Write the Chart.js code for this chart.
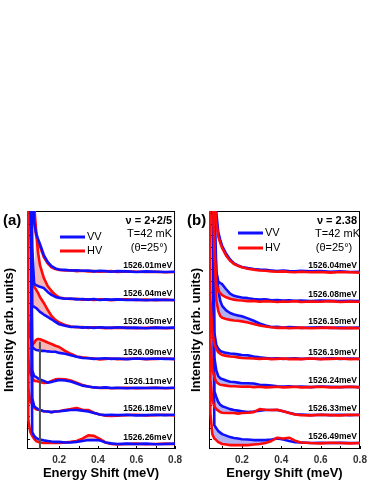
<!DOCTYPE html>
<html>
<head>
<meta charset="utf-8">
<script src="https://cdn.jsdelivr.net/npm/chart.js@4.4.1/dist/chart.umd.min.js"></script>
<style>
  html, body { margin: 0; padding: 0; background: #fff; }
  #wrap { position: relative; width: 374px; height: 484px; }
  .panel { position: absolute; top: 0; width: 187px; height: 484px; }
</style>
</head>
<body>
<div id="wrap">
  <div class="panel" style="left:0"><canvas id="chartA" width="187" height="484"></canvas></div>
  <div class="panel" style="left:187px"><canvas id="chartB" width="187" height="484"></canvas></div>
</div>
<script>
// energy shift grid (meV), shared by every spectrum
const energyShift = [0.03, 0.04, 0.05, 0.06, 0.07, 0.08, 0.09, 0.10, 0.12, 0.14, 0.16, 0.18, 0.20, 0.23, 0.26,
  0.29, 0.32, 0.35, 0.38, 0.41, 0.44, 0.47, 0.50, 0.55, 0.60, 0.65, 0.70, 0.75, 0.80];
const xTickValues = [0.2, 0.4, 0.6, 0.8];
const xMinorTicks = [0.1, 0.2, 0.3, 0.4, 0.5, 0.6, 0.7, 0.8];
const yTickValues = [0.34, 0.72, 1.10, 1.48, 1.86, 2.24, 2.62, 3.00, 3.38, 3.76, 4.14, 4.52, 4.90, 5.28,
  5.66, 6.04, 6.42, 6.80, 7.18, 7.56, 7.94];

// panel (a) : nu = 2+2/5
const laserA = ['1526.01meV', '1526.04meV', '1526.05meV', '1526.09meV', '1526.11meV', '1526.18meV', '1526.26meV'];
const offsetsA = [5.95, 5.01, 4.07, 3.03, 2.05, 1.14, 0.17];
const fillFromA = [0.08, 0.08, 0.06, 0.06, 0.06, 0.06, 0.06];
const vvA = [
  [9, 9, 9, 4, 1.68, 1.31, 1.11, 0.94, 0.57, 0.34, 0.20, 0.12, 0.08, 0.07, 0.05, 0.06, 0.04, 0.05, 0.02, 0.04, 0.03, 0.01, 0.03, 0.02, 0.00, 0.02, 0.01, 0.00, 0.01],
  [9, 9, 9, 1.78, 0.54, 0.50, 0.47, 0.44, 0.40, 0.27, 0.17, 0.10, 0.07, 0.04, 0.05, 0.02, 0.03, 0.01, 0.03, 0.00, 0.02, 0.01, 0.02, 0.00, 0.01, -0.01, 0.01, 0.00, 0.00],
  [9, 9, 9, 0.74, 0.71, 0.67, 0.61, 0.54, 0.45, 0.37, 0.29, 0.20, 0.12, 0.07, 0.03, 0.04, 0.01, 0.02, 0.00, 0.02, 0.01, 0.00, 0.02, 0.00, 0.01, -0.01, 0.01, 0.00, 0.01],
  [9, 9, 9, 0.40, 0.34, 0.30, 0.29, 0.27, 0.27, 0.25, 0.24, 0.24, 0.20, 0.17, 0.12, 0.07, 0.03, 0.02, 0.00, 0.01, 0.02, 0.00, 0.01, -0.01, 0.01, 0.00, 0.01, 0.00, 0.00],
  [9, 9, 9, 0.60, 0.40, 0.37, 0.32, 0.29, 0.24, 0.18, 0.20, 0.24, 0.27, 0.25, 0.22, 0.15, 0.08, 0.05, 0.02, 0.01, 0.02, 0.00, 0.01, -0.01, 0.01, 0.00, 0.01, 0.00, 0.01],
  [9, 9, 9, 0.57, 0.30, 0.24, 0.20, 0.17, 0.13, 0.12, 0.10, 0.12, 0.13, 0.15, 0.17, 0.17, 0.15, 0.12, 0.07, 0.02, 0.00, 0.01, 0.00, 0.01, -0.01, 0.00, 0.01, 0.00, 0.01],
  [9, 9, 9, 0.40, 0.27, 0.20, 0.17, 0.15, 0.12, 0.10, 0.08, 0.07, 0.07, 0.05, 0.05, 0.07, 0.10, 0.13, 0.13, 0.12, 0.05, 0.02, 0.00, 0.01, 0.00, 0.01, -0.01, 0.00, 0.01]
];
const hvA = [
  [9, 9, 9, 4, 1.75, 1.22, 1.02, 0.86, 0.50, 0.29, 0.16, 0.10, 0.07, 0.05, 0.06, 0.03, 0.04, 0.02, 0.03, 0.01, 0.02, 0.03, 0.00, 0.02, 0.01, 0.00, 0.01, -0.01, 0.00],
  [9, 9, 9, 9, 3.2, 2.35, 1.61, 1.18, 0.74, 0.47, 0.30, 0.17, 0.08, 0.05, 0.03, 0.04, 0.01, 0.02, 0.00, 0.02, 0.01, -0.01, 0.01, 0.02, 0.00, 0.01, -0.01, 0.01, -0.01],
  [9, 9, 9, 1.51, 1.38, 1.29, 1.18, 1.04, 0.84, 0.61, 0.40, 0.27, 0.18, 0.10, 0.05, 0.02, 0.03, 0.00, 0.02, 0.01, -0.01, 0.01, 0.00, 0.01, -0.01, 0.00, 0.01, -0.01, 0.00],
  [9, 1.3, 0.75, 0.47, 0.54, 0.64, 0.67, 0.66, 0.61, 0.55, 0.50, 0.44, 0.40, 0.27, 0.17, 0.08, 0.05, 0.03, 0.01, -0.02, 0.00, 0.01, -0.01, 0.00, 0.01, -0.01, 0.00, 0.01, -0.01],
  [9, 1.0, 0.5, 0.37, 0.24, 0.24, 0.22, 0.20, 0.17, 0.18, 0.24, 0.29, 0.30, 0.29, 0.25, 0.18, 0.10, 0.05, 0.02, 0.00, 0.01, -0.01, 0.00, 0.01, -0.01, 0.00, 0.01, -0.01, 0.00],
  [9, 0.9, 0.45, 0.37, 0.25, 0.20, 0.18, 0.17, 0.13, 0.12, 0.10, 0.12, 0.13, 0.17, 0.20, 0.24, 0.18, 0.17, 0.08, 0.02, -0.02, -0.03, -0.02, 0.00, 0.01, -0.01, 0.00, 0.01, -0.01],
  [9, 0.8, 0.4, 0.27, 0.17, 0.10, 0.07, 0.05, 0.03, 0.03, 0.03, 0.03, 0.03, 0.05, 0.07, 0.10, 0.18, 0.29, 0.27, 0.17, 0.05, 0.00, -0.02, 0.00, 0.01, -0.01, 0.00, 0.01, 0.00]
];

// panel (b) : nu = 2.38
const laserB = ['1526.04meV', '1526.08meV', '1526.15meV', '1526.19meV', '1526.24meV', '1526.33meV', '1526.49meV'];
const offsetsB = [5.95, 4.97, 4.07, 3.03, 2.08, 1.14, 0.20];
const fillFromB = [0.08, 0.08, 0.08, 0.07, 0.07, 0.07, 0.06];
const vvB = [
  [9, 9, 9, 4, 2.0, 1.34, 1.08, 0.87, 0.61, 0.42, 0.29, 0.22, 0.17, 0.13, 0.10, 0.08, 0.07, 0.05, 0.03, 0.05, 0.03, 0.02, 0.04, 0.02, 0.03, 0.01, 0.02, 0.00, 0.01],
  [9, 9, 9, 2.5, 1.0, 0.66, 0.61, 0.57, 0.40, 0.25, 0.18, 0.15, 0.12, 0.10, 0.07, 0.05, 0.06, 0.03, 0.04, 0.02, 0.03, 0.01, 0.02, 0.00, 0.02, 0.01, 0.00, 0.01, 0.00],
  [9, 9, 9, 4.5, 1.95, 1.28, 0.91, 0.74, 0.59, 0.50, 0.45, 0.42, 0.39, 0.32, 0.24, 0.15, 0.08, 0.03, 0.04, 0.01, 0.03, 0.02, 0.00, 0.01, 0.02, 0.00, 0.01, 0.00, 0.01],
  [9, 9, 9, 0.9, 0.47, 0.34, 0.27, 0.24, 0.20, 0.18, 0.17, 0.15, 0.13, 0.12, 0.08, 0.05, 0.03, 0.01, 0.02, 0.00, 0.01, 0.02, 0.00, 0.01, 0.00, 0.02, 0.00, 0.01, 0.00],
  [9, 9, 9, 1.0, 0.57, 0.37, 0.30, 0.27, 0.22, 0.18, 0.17, 0.15, 0.13, 0.13, 0.12, 0.08, 0.07, 0.05, 0.03, 0.02, 0.03, 0.01, 0.02, 0.00, 0.02, 0.01, 0.00, 0.01, 0.00],
  [9, 9, 9, 0.8, 0.61, 0.44, 0.35, 0.30, 0.25, 0.20, 0.17, 0.15, 0.13, 0.10, 0.12, 0.15, 0.17, 0.17, 0.17, 0.13, 0.08, 0.03, 0.02, 0.00, 0.01, 0.00, 0.01, 0.00, 0.01],
  [9, 9, 9, 0.6, 0.50, 0.40, 0.35, 0.30, 0.25, 0.20, 0.17, 0.15, 0.13, 0.12, 0.10, 0.10, 0.10, 0.12, 0.15, 0.12, 0.07, 0.03, 0.02, 0.00, 0.01, 0.00, 0.01, 0.00, 0.00]
];
const hvB = [
  [9, 9, 9, 2.5, 1.7, 1.20, 0.98, 0.80, 0.55, 0.38, 0.27, 0.21, 0.16, 0.11, 0.08, 0.05, 0.04, 0.02, 0.01, 0.02, 0.00, -0.01, 0.01, -0.01, 0.00, -0.02, 0.00, -0.01, -0.02],
  [9, 9, 4, 1.8, 0.6, 0.37, 0.27, 0.20, 0.13, 0.08, 0.05, 0.03, 0.02, 0.00, 0.01, -0.02, 0.00, -0.01, -0.03, -0.01, -0.02, 0.00, -0.03, -0.01, -0.02, 0.00, -0.03, -0.01, -0.02],
  [9, 9, 6, 3, 0.94, 0.57, 0.40, 0.34, 0.30, 0.27, 0.25, 0.24, 0.22, 0.18, 0.13, 0.08, 0.05, 0.02, 0.00, 0.01, -0.01, 0.00, 0.01, -0.01, 0.00, 0.01, -0.01, 0.00, -0.01],
  [9, 2, 0.9, 0.5, 0.34, 0.22, 0.17, 0.13, 0.10, 0.08, 0.07, 0.05, 0.03, 0.02, 0.01, 0.00, 0.01, -0.01, 0.00, 0.01, -0.01, 0.00, -0.01, 0.01, -0.01, 0.00, 0.01, -0.01, 0.00],
  [9, 1.5, 0.6, 0.35, 0.17, 0.12, 0.08, 0.07, 0.05, 0.03, 0.03, 0.02, 0.01, 0.02, 0.00, 0.01, -0.01, 0.00, 0.01, -0.01, 0.00, 0.01, -0.01, 0.00, 0.01, -0.01, 0.00, 0.01, -0.01],
  [9, 1.2, 0.5, 0.30, 0.20, 0.15, 0.10, 0.08, 0.07, 0.07, 0.07, 0.05, 0.07, 0.08, 0.10, 0.20, 0.18, 0.17, 0.18, 0.13, 0.07, 0.02, 0.00, -0.01, 0.01, 0.00, -0.01, 0.01, 0.00],
  [9, 1.0, 0.3, 0.15, 0.10, 0.03, 0.00, -0.03, -0.05, -0.07, -0.07, -0.07, -0.07, -0.07, -0.05, -0.03, 0.00, 0.07, 0.18, 0.15, 0.18, 0.08, 0.02, 0.00, -0.01, 0.01, 0.00, -0.01, 0.00]
];

// vertical guide in panel (a)
const guideX = 0.1;
const guideTop = 3.58;

const BLUE = '#1010ff';
const RED = '#ff0a0a';
const FONT = '"Liberation Sans", Arial, sans-serif';

function buildDatasets(vv, hv, offsets, fillFrom, upperIsHV, shade) {
  const ds = [];
  offsets.forEach((off, i) => {
    const base = ds.length;
    const upper = upperIsHV ? hv[i] : vv[i];
    const lower = upperIsHV ? vv[i] : hv[i];
    ds.push({
      label: 'VV',
      data: energyShift.map((x, k) => ({ x, y: off + vv[i][k] })),
      borderColor: BLUE,
      order: upperIsHV ? 1 : 2
    });
    ds.push({
      label: 'HV',
      data: energyShift.map((x, k) => ({ x, y: off + hv[i][k] })),
      borderColor: RED,
      order: upperIsHV ? 2 : 1
    });
    // shaded difference between the two polarisations
    ds.push({
      label: 'diff',
      data: energyShift.map((x, k) => ({ x, y: off + (x >= fillFrom[i] ? upper[k] : lower[k]) })),
      borderColor: 'rgba(0,0,0,0)',
      borderWidth: 0,
      order: 3,
      fill: { target: upperIsHV ? base : base + 1, above: shade, below: 'rgba(0,0,0,0)' }
    });
  });
  return ds;
}

function decorPlugin(p) {
  return {
    id: 'decor' + p.tag.replace(/\W/g, ''),
    beforeDatasetsDraw(chart) {
      const { ctx, chartArea: a, scales } = chart;
      ctx.save();
      ctx.strokeStyle = '#000';
      ctx.lineWidth = 1;
      ctx.strokeRect(a.left + 0.5, a.top + 0.5, a.right - a.left - 1, a.bottom - a.top - 1);
      ctx.beginPath();
      xMinorTicks.forEach(v => {
        const px = Math.round(scales.x.getPixelForValue(v)) + 0.5;
        ctx.moveTo(px, a.bottom);
        ctx.lineTo(px, a.bottom - 3);
      });
      yTickValues.forEach(v => {
        const py = Math.round(scales.y.getPixelForValue(v)) + 0.5;
        ctx.moveTo(a.left, py);
        ctx.lineTo(a.left + 3, py);
      });
      ctx.stroke();
      ctx.restore();
    },
    afterDatasetsDraw(chart) {
      const { ctx, chartArea: a, scales } = chart;
      ctx.save();
      ctx.fillStyle = '#000';
      ctx.textBaseline = 'middle';
      // panel tag
      ctx.font = 'bold 15px ' + FONT;
      ctx.textAlign = 'left';
      ctx.fillText(p.tag, p.tagX, 221);
      // filling factor / temperature / angle
      ctx.textAlign = 'right';
      ctx.font = 'bold 11px ' + FONT;
      ctx.fillText(p.nu, a.right - 3, 221);
      ctx.font = '11px ' + FONT;
      ctx.fillText('T=42 mK', a.right + p.tShift, 234);
      ctx.textAlign = 'center';
      ctx.fillText('(\u03B8=25\u00B0)', a.right - 26, 248);
      // legend
      [['VV', BLUE, p.legendY[0]], ['HV', RED, p.legendY[1]]].forEach(([t, c, y]) => {
        ctx.strokeStyle = c;
        ctx.lineWidth = 3;
        ctx.beginPath();
        ctx.moveTo(a.left + p.legendX, y);
        ctx.lineTo(a.left + p.legendX + 25, y);
        ctx.stroke();
        ctx.textAlign = 'left';
        ctx.fillText(t, a.left + p.legendX + 27, y);
      });
      // laser energy of each spectrum
      ctx.font = 'bold 8.5px ' + FONT;
      ctx.textAlign = 'right';
      p.labels.forEach((t, i) => {
        ctx.fillText(t, a.right - 3, scales.y.getPixelForValue(p.offsets[i]) - 6);
      });
      ctx.restore();
    }
  };
}

function makePanel(canvasId, p) {
  const datasets = buildDatasets(p.vv, p.hv, p.offsets, p.fillFrom, p.upperIsHV, p.shade);
  if (p.guide) {
    datasets.push({
      label: 'guide',
      data: [{ x: guideX, y: 0 }, { x: guideX, y: guideTop }],
      borderColor: '#505050',
      borderWidth: 2,
      order: 0
    });
  }
  return new Chart(document.getElementById(canvasId), {
    type: 'line',
    data: { datasets },
    options: {
      responsive: false,
      animation: false,
      events: [],
      layout: { padding: { top: 211, right: p.padRight, left: 0, bottom: 0 } },
      elements: {
        point: { radius: 0 },
        line: { borderWidth: 2.6, tension: 0, borderJoinStyle: 'round', borderCapStyle: 'round' }
      },
      plugins: { legend: { display: false }, tooltip: { enabled: false } },
      scales: {
        x: {
          type: 'linear',
          min: 0.033,
          max: 0.8,
          afterBuildTicks: s => { s.ticks = xTickValues.map(v => ({ value: v })); },
          afterFit: s => { s.height = 35; },
          grid: { display: false, drawTicks: false },
          border: { display: false },
          ticks: {
            padding: 5,
            color: '#333',
            font: { family: FONT, size: 10, weight: 'bold' },
            maxRotation: 0,
            callback: v => v.toFixed(1)
          },
          title: {
            display: true,
            text: 'Energy Shift (meV)',
            color: '#000',
            font: { family: FONT, size: 13, weight: 'bold' },
            padding: { top: 0, bottom: 3 }
          }
        },
        y: {
          type: 'linear',
          min: 0,
          max: 8,
          afterFit: s => { s.width = p.yWidth; },
          grid: { display: false, drawTicks: false },
          border: { display: false },
          ticks: { display: false },
          title: {
            display: true,
            text: 'Intensity (arb. units)',
            color: '#000',
            font: { family: FONT, size: 13, weight: 'bold' },
            padding: { top: 2, bottom: 0 }
          }
        }
      }
    },
    plugins: [decorPlugin(p)]
  });
}

makePanel('chartA', {
  tag: '(a)', tagX: 3, nu: '\u03BD = 2+2/5', tShift: -3,
  vv: vvA, hv: hvA, offsets: offsetsA, fillFrom: fillFromA, labels: laserA,
  upperIsHV: true, shade: 'rgba(240,110,110,0.5)', guide: true,
  yWidth: 27, padRight: 9, legendX: 33, legendY: [237, 251]
});

makePanel('chartB', {
  tag: '(b)', tagX: 0, nu: '\u03BD = 2.38', tShift: 0,
  vv: vvB, hv: hvB, offsets: offsetsB, fillFrom: fillFromB, labels: laserB,
  upperIsHV: false, shade: 'rgba(100,100,230,0.5)', guide: false,
  yWidth: 22, padRight: 14, legendX: 29, legendY: [233, 248]
});
</script>
</body>
</html>
